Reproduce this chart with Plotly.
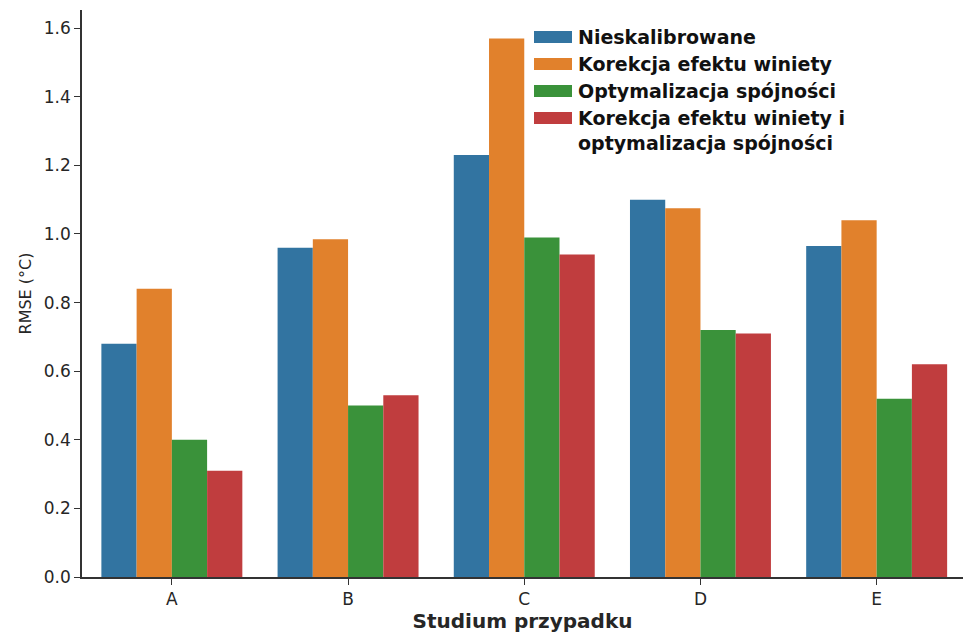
import plotly.graph_objects as go

# Case studies and RMSE per calibration variant
cases = ["A", "B", "C", "D", "E"]
series_names = [
    "Nieskalibrowane",
    "Korekcja efektu winiety",
    "Optymalizacja spójności",
    "Korekcja efektu winiety i<br>optymalizacja spójności",
]
rmse_uncalibrated = [0.68, 0.96, 1.23, 1.10, 0.965]
rmse_vignetting = [0.84, 0.985, 1.57, 1.075, 1.04]
rmse_consistency = [0.40, 0.50, 0.99, 0.72, 0.52]
rmse_both = [0.31, 0.53, 0.94, 0.71, 0.62]
series_values = [rmse_uncalibrated, rmse_vignetting, rmse_consistency, rmse_both]
colors = ["#3274a1", "#e1812c", "#3a923a", "#c03d3e"]
y_ticks = [0.0, 0.2, 0.4, 0.6, 0.8, 1.0, 1.2, 1.4, 1.6]

FONT = "DejaVu Sans"
TEXT = "#262626"

fig = go.Figure()
for name, vals, col in zip(series_names, series_values, colors):
    fig.add_trace(go.Bar(
        x=cases, y=vals, name=name,
        marker=dict(color=col, line=dict(width=0)),
        showlegend=False,
    ))

fig.update_layout(
    width=966, height=635,
    margin=dict(l=82, r=3, t=10, b=58),
    paper_bgcolor="white", plot_bgcolor="white",
    barmode="group", bargap=0.2, bargroupgap=0.0,
    font=dict(family=FONT, color=TEXT),
)
fig.update_xaxes(
    type="category", range=[-0.51, 4.49],
    showline=True, linecolor="#333333", linewidth=1.5,
    ticks="outside", ticklen=6, tickwidth=1.2, tickcolor="#333333",
    tickfont=dict(size=17, family=FONT, color=TEXT),
    showgrid=False, zeroline=False,
    title=dict(text="<b>Studium przypadku</b>", font=dict(size=20, family=FONT, color=TEXT), standoff=2),
)
fig.update_yaxes(
    range=[0, 1.653], tickvals=y_ticks, ticktext=[f"{v:.1f}" for v in y_ticks],
    showline=True, linecolor="#333333", linewidth=1.5,
    ticks="outside", ticklen=6, tickwidth=1.2, tickcolor="#333333",
    tickfont=dict(size=17, family=FONT, color=TEXT),
    showgrid=False, zeroline=False,
    title=dict(text="RMSE (°C)", font=dict(size=16, family=FONT, color=TEXT), standoff=8),
)

# Legend drawn in the upper part of the plot area with wide colour swatches
plot_w = 966 - 82 - 3
plot_h = 635 - 10 - 58


def px_x(x):
    return (x - 82) / plot_w


def px_y(y):
    return (577 - y) / plot_h


fig.add_shape(type="rect", xref="paper", yref="paper",
              x0=px_x(528), x1=px_x(880), y0=px_y(160), y1=px_y(20),
              fillcolor="white", line=dict(width=0), layer="above")
entry_y = [37, 64, 91, 118]
for i, (name, col, yc) in enumerate(zip(series_names, colors, entry_y)):
    fig.add_shape(type="rect", xref="paper", yref="paper",
                  x0=px_x(534), x1=px_x(572), y0=px_y(yc + 6), y1=px_y(yc - 6),
                  fillcolor=col, line=dict(width=0), layer="above")
    multiline = "<br>" in name
    fig.add_annotation(xref="paper", yref="paper", x=px_x(576),
                       y=px_y(yc - 13) if multiline else px_y(yc),
                       xanchor="left", yanchor="top" if multiline else "middle",
                       align="left", showarrow=False,
                       text=f"<b>{name}</b>", font=dict(size=19, family=FONT, color="#111111"))

fig.write_html("out.html")
